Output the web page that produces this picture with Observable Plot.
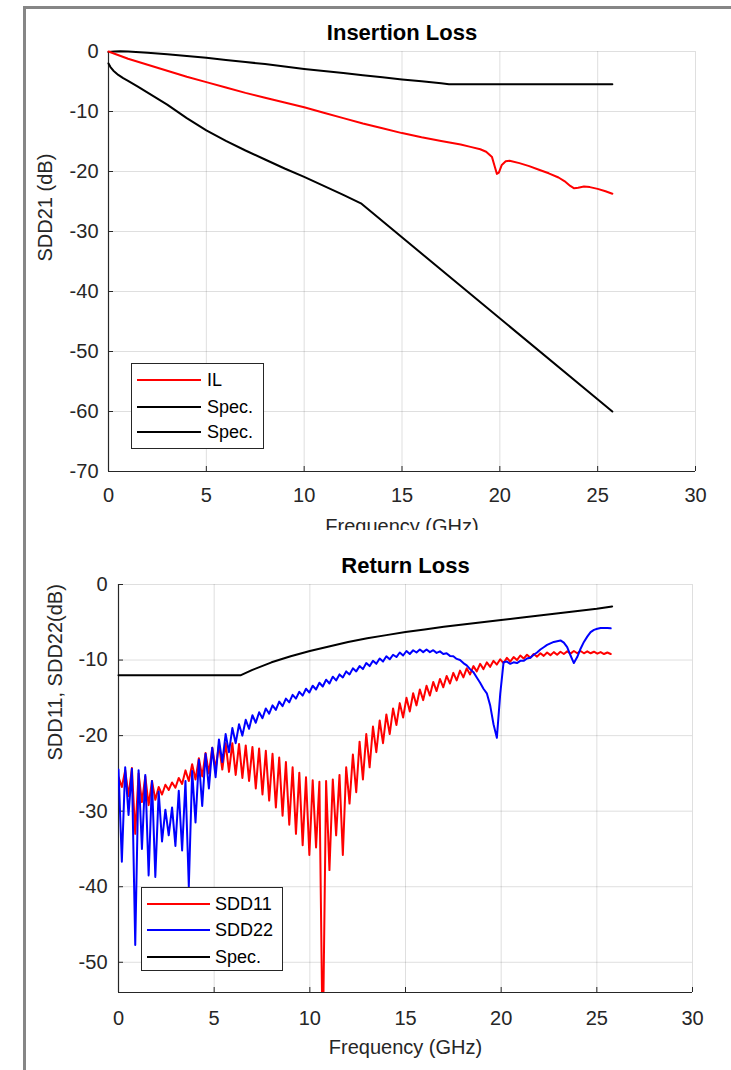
<!DOCTYPE html>
<html>
<head>
<meta charset="utf-8">
<script src="https://cdn.jsdelivr.net/npm/d3@7"></script>
<script src="https://cdn.jsdelivr.net/npm/@observablehq/plot@0.6"></script>
<style>
  html,body{margin:0;padding:0;background:#fff;}
  #page{position:relative;width:731px;height:1070px;overflow:hidden;background:#fff;font-family:"Liberation Sans",Arial,Helvetica,sans-serif;}
  .bar{position:absolute;background:#868686;}
  .panel{position:absolute;left:0;width:731px;overflow:hidden;}
  .legend{position:absolute;background:#fff;border:1px solid #262626;box-sizing:border-box;}
  .entry{position:absolute;left:0;height:20px;display:flex;align-items:center;font-size:18px;color:#000;white-space:nowrap;}
  .swatch{display:inline-block;height:0;border-top:2px solid;}
</style>
</head>
<body>
<div id="page">
  <div id="top" class="panel" style="top:0;height:530px"></div>
  <div id="bottom" class="panel" style="top:530px;height:540px"></div>
  <div class="bar" style="left:23px;top:6px;width:708px;height:3px"></div>
  <div class="bar" style="left:23px;top:6px;width:3px;height:1064px"></div>
</div>
<script>
// ---------- Tick labels ----------
const xTicks = [0, 5, 10, 15, 20, 25, 30];
const ilYTicks = [0, -10, -20, -30, -40, -50, -60, -70];
const rlYTicks = [0, -10, -20, -30, -40, -50];

// ---------- Insertion loss (top) ----------
const ilF = [0,1,2,3,4,5,6,7,8,9,10,11,12,13,14,15,16,17,17.5,18,18.5,19,19.3,19.6,19.75,19.85,19.95,20.1,20.3,20.5,21,21.5,22,22.5,23,23.3,23.6,23.8,24,24.3,24.6,25,25.4,25.75];
const ilV = [0,-1.2,-2.2,-3.2,-4.2,-5.1,-6.0,-6.9,-7.7,-8.5,-9.3,-10.2,-11.1,-12.0,-12.8,-13.6,-14.3,-14.9,-15.2,-15.5,-15.9,-16.3,-16.7,-17.6,-19.3,-20.4,-20.2,-18.9,-18.3,-18.2,-18.6,-19.1,-19.7,-20.3,-21.0,-21.6,-22.4,-22.8,-22.7,-22.5,-22.6,-22.9,-23.3,-23.7];

const specUF = [0,0.3,0.6,1,2,3,4,5,6,7,8,9,10,11,12,13,14,15,16,17,17.4,25.75];
const specUV = [-0.1,0,0.05,0,-0.2,-0.45,-0.75,-1.05,-1.4,-1.75,-2.1,-2.5,-2.9,-3.25,-3.6,-3.95,-4.3,-4.65,-4.95,-5.3,-5.45,-5.45];

const specLF = [0,0.1,0.25,0.5,0.75,1,1.5,2,2.5,3,4,5,6,7,8,9,10,11,12,12.9,25.75];
const specLV = [-2.0,-2.6,-3.2,-3.9,-4.45,-4.9,-5.85,-6.85,-7.85,-8.85,-11.1,-13.15,-14.9,-16.5,-18.0,-19.5,-20.9,-22.4,-23.9,-25.3,-60.0];

// ---------- Return loss (bottom) ----------
const rlF = [
 0,0.175,0.35,0.525,0.7,0.875,1.05,1.225,
 1.4,1.575,1.75,1.925,2.1,2.275,2.45,2.625,
 2.8,2.975,3.15,3.325,3.5,3.675,3.85,4.025,
 4.2,4.375,4.55,4.725,4.9,5.075,5.25,5.425,
 5.6,5.775,5.95,6.125,6.3,6.475,6.65,6.825,
 7,7.175,7.35,7.525,7.7,7.875,8.05,8.225,
 8.4,8.575,8.75,8.925,9.1,9.275,9.45,9.625,
 9.8,9.975,10.15,10.325,10.5,10.675,10.85,11.025,
 11.2,11.375,11.55,11.725,11.9,12.075,12.25,12.425,
 12.6,12.775,12.95,13.125,13.3,13.475,13.65,13.825,
 14,14.175,14.35,14.525,14.7,14.875,15.05,15.225,
 15.4,15.575,15.75,15.925,16.1,16.275,16.45,16.625,
 16.8,16.975,17.15,17.325,17.5,17.675,17.85,18.025,
 18.2,18.375,18.55,18.725,18.9,19.075,19.25,19.425,
 19.6,19.775,19.95,20.125,20.3,20.475,20.65,20.825,
 21,21.175,21.35,21.525,21.7,21.875,22.05,22.225,
 22.4,22.575,22.75,22.925,23.1,23.275,23.45,23.625,
 23.8,23.975,24.15,24.325,24.5,24.675,24.85,25.025,
 25.2,25.375,25.55,25.725];

const sdd11 = [
 -25.5,-26.8,-24.6,-28.0,-24.3,-33.0,-25.0,-28.8,
 -25.4,-29.2,-26.0,-28.5,-26.8,-27.8,-26.5,-27.2,
 -26.2,-26.9,-25.6,-26.4,-24.6,-26.0,-23.8,-25.8,
 -23.0,-25.4,-22.3,-25.0,-21.6,-24.4,-21.2,-24.5,
 -21.0,-24.8,-21.0,-25.2,-21.1,-25.6,-21.3,-26.0,
 -21.5,-27.0,-21.7,-27.8,-22.0,-28.6,-22.4,-29.5,
 -22.9,-30.6,-23.5,-31.8,-24.2,-33.0,-24.9,-34.5,
 -25.5,-35.8,-25.9,-34.8,-26.1,-62.0,-26.0,-37.8,
 -25.8,-33.2,-25.2,-35.8,-24.2,-29.0,-22.5,-27.5,
 -20.8,-25.8,-19.8,-24.2,-18.8,-22.2,-18.0,-21.0,
 -17.2,-19.8,-16.4,-18.6,-15.7,-17.6,-15.0,-16.8,
 -14.4,-16.0,-13.9,-15.3,-13.4,-14.7,-12.9,-14.1,
 -12.5,-13.6,-12.1,-13.1,-11.7,-12.7,-11.4,-12.3,
 -11.1,-11.9,-10.8,-11.5,-10.5,-11.2,-10.3,-10.9,
 -10.1,-10.6,-9.9,-10.4,-9.7,-10.2,-9.6,-10.0,
 -9.4,-9.8,-9.3,-9.7,-9.2,-9.55,-9.1,-9.45,
 -9.0,-9.35,-8.95,-9.3,-8.9,-9.2,-8.85,-9.15,
 -8.8,-9.1,-8.8,-9.1,-8.85,-9.1,-8.9,-9.15,
 -8.95,-9.2,-9.0,-9.2];

const sdd22 = [
 -24.5,-36.7,-24.2,-30.5,-24.4,-47.7,-24.6,-35.0,
 -25.2,-38.5,-26.0,-38.7,-27.4,-34.0,-29.8,-33.2,
 -29.5,-34.6,-27.3,-35.2,-26.0,-40.0,-24.7,-31.5,
 -23.2,-29.3,-22.4,-27.0,-21.6,-25.5,-20.5,-23.5,
 -19.8,-22.2,-19.0,-21.0,-18.5,-20.0,-17.9,-19.1,
 -17.3,-18.3,-16.9,-17.7,-16.4,-17.1,-16.0,-16.6,
 -15.5,-16.1,-15.1,-15.6,-14.6,-15.1,-14.2,-14.7,
 -13.8,-14.3,-13.4,-13.9,-13.0,-13.5,-12.6,-13.1,
 -12.2,-12.7,-11.9,-12.3,-11.5,-11.9,-11.1,-11.5,
 -10.8,-11.2,-10.4,-10.8,-10.1,-10.5,-9.8,-10.2,
 -9.5,-9.9,-9.3,-9.6,-9.0,-9.4,-8.8,-9.2,
 -8.7,-9.0,-8.6,-8.95,-8.6,-8.95,-8.7,-9.05,
 -8.85,-9.2,-9.1,-9.45,-9.5,-9.85,-10.0,-10.4,
 -10.7,-11.2,-11.6,-12.3,-13.0,-13.8,-14.4,-16.0,
 -18.5,-20.3,-14.5,-10.3,-10.2,-10.5,-10.3,-10.4,
 -10.1,-10.1,-9.8,-9.7,-9.3,-9.0,-8.6,-8.3,
 -8.0,-7.8,-7.6,-7.5,-7.4,-7.7,-8.3,-9.4,
 -10.4,-9.6,-8.5,-7.6,-6.9,-6.3,-6.0,-5.85,
 -5.75,-5.75,-5.75,-5.8];

const rlSpecF = [0,6.4,7,8,9,10,11,12,13,14,15,16,17,18,19,20,21,22,23,24,25,25.8];
const rlSpecV = [-12,-12,-11.3,-10.3,-9.5,-8.8,-8.2,-7.6,-7.1,-6.7,-6.3,-5.95,-5.6,-5.3,-5.0,-4.7,-4.4,-4.1,-3.8,-3.5,-3.2,-2.9];

// ---------- Legends ----------
const ilLegend = [["IL", "#ff0000"], ["Spec.", "#000000"], ["Spec.", "#000000"]];
const rlLegend = [["SDD11", "#ff0000"], ["SDD22", "#0000ff"], ["Spec.", "#000000"]];

const FONT = '"Liberation Sans", Arial, Helvetica, sans-serif';
const AX = "#262626";
const rows = (F, V) => F.map((f, i) => ({f, v: V[i]}));
const fmt = d => String(d);

function axesMarks(yTicks, yMin, opts) {
  return [
    Plot.gridX(xTicks, {stroke: AX, strokeOpacity: 0.15}),
    Plot.gridY(yTicks, {stroke: AX, strokeOpacity: 0.15}),
    Plot.ruleX([0], {stroke: AX, strokeWidth: 1.2}),
    Plot.ruleY([yMin], {stroke: AX, strokeWidth: 1.2}),
    Plot.axisX(xTicks, {tickSize: -5, tickPadding: opts.xPad, tickFormat: fmt, label: null, fontSize: 20, fill: AX, stroke: AX}),
    Plot.axisY(yTicks, {tickSize: -5, tickPadding: opts.yPad, tickFormat: fmt, label: null, fontSize: 20, fill: AX, stroke: AX})
  ];
}

const topPlot = Plot.plot({
  width: 731, height: 530,
  marginLeft: 108, marginRight: 36, marginTop: 51, marginBottom: 59,
  style: {fontFamily: FONT, fontSize: "20px", color: AX, background: "transparent"},
  x: {domain: [0, 30]},
  y: {domain: [-70, 0]},
  marks: [
    ...axesMarks(ilYTicks, -70, {xPad: 21, yPad: 15}),
    Plot.line(rows(specLF, specLV), {x: "f", y: "v", stroke: "#000", strokeWidth: 2}),
    Plot.line(rows(specUF, specUV), {x: "f", y: "v", stroke: "#000", strokeWidth: 2}),
    Plot.line(rows(ilF, ilV), {x: "f", y: "v", stroke: "#ff0000", strokeWidth: 2}),
    Plot.text(["Insertion Loss"], {text: d => d, frameAnchor: "top", lineAnchor: "middle", dy: -19, fontWeight: "bold", fontSize: 22, fill: "#000"}),
    Plot.text(["SDD21 (dB)"], {text: d => d, frameAnchor: "left", lineAnchor: "middle", dx: -63, rotate: -90, fontSize: 20, fill: AX}),
    Plot.text(["Frequency (GHz)"], {text: d => d, frameAnchor: "bottom", lineAnchor: "middle", dy: 55, fontSize: 20, fill: AX})
  ]
});
document.getElementById("top").appendChild(topPlot);

const bottomPlot = Plot.plot({
  width: 731, height: 540,
  marginLeft: 118, marginRight: 39, marginTop: 54, marginBottom: 78,
  style: {fontFamily: FONT, fontSize: "20px", color: AX, background: "transparent"},
  x: {domain: [0, 30]},
  y: {domain: [-54, 0]},
  marks: [
    ...axesMarks(rlYTicks, -54, {xPad: 23, yPad: 16}),
    Plot.line(rows(rlF, sdd11), {x: "f", y: "v", stroke: "#ff0000", strokeWidth: 2, clip: true}),
    Plot.line(rows(rlF, sdd22), {x: "f", y: "v", stroke: "#0000ff", strokeWidth: 2, clip: true}),
    Plot.line(rows(rlSpecF, rlSpecV), {x: "f", y: "v", stroke: "#000", strokeWidth: 2}),
    Plot.text(["Return Loss"], {text: d => d, frameAnchor: "top", lineAnchor: "middle", dy: -19, fontWeight: "bold", fontSize: 22, fill: "#000"}),
    Plot.text(["SDD11, SDD22(dB)"], {text: d => d, frameAnchor: "left", lineAnchor: "middle", dx: -63, dy: -28, rotate: -90, fontSize: 20, fill: AX}),
    Plot.text(["Frequency (GHz)"], {text: d => d, frameAnchor: "bottom", lineAnchor: "middle", dy: 55, fontSize: 20, fill: AX})
  ]
});
document.getElementById("bottom").appendChild(bottomPlot);

function legend(items, box) {
  const el = document.createElement("div");
  el.className = "legend";
  Object.assign(el.style, {left: box.left + "px", top: box.top + "px", width: box.width + "px", height: box.height + "px"});
  items.forEach(([label, color], i) => {
    const row = document.createElement("div");
    row.className = "entry";
    row.style.top = (box.rows[i] - 10) + "px";
    const sw = document.createElement("span");
    sw.className = "swatch";
    sw.style.borderTopColor = color;
    sw.style.width = box.sw + "px";
    sw.style.marginLeft = box.swLeft + "px";
    sw.style.marginRight = box.gap + "px";
    const tx = document.createElement("span");
    tx.textContent = label;
    row.appendChild(sw); row.appendChild(tx);
    el.appendChild(row);
  });
  document.getElementById("page").appendChild(el);
}
legend(ilLegend, {left: 131, top: 363, width: 133, height: 86, rows: [16, 43, 68], sw: 64, swLeft: 5, gap: 6});
legend(rlLegend, {left: 141, top: 887, width: 142, height: 84, rows: [16, 42, 69], sw: 63, swLeft: 5, gap: 5});
</script>
</body>
</html>
